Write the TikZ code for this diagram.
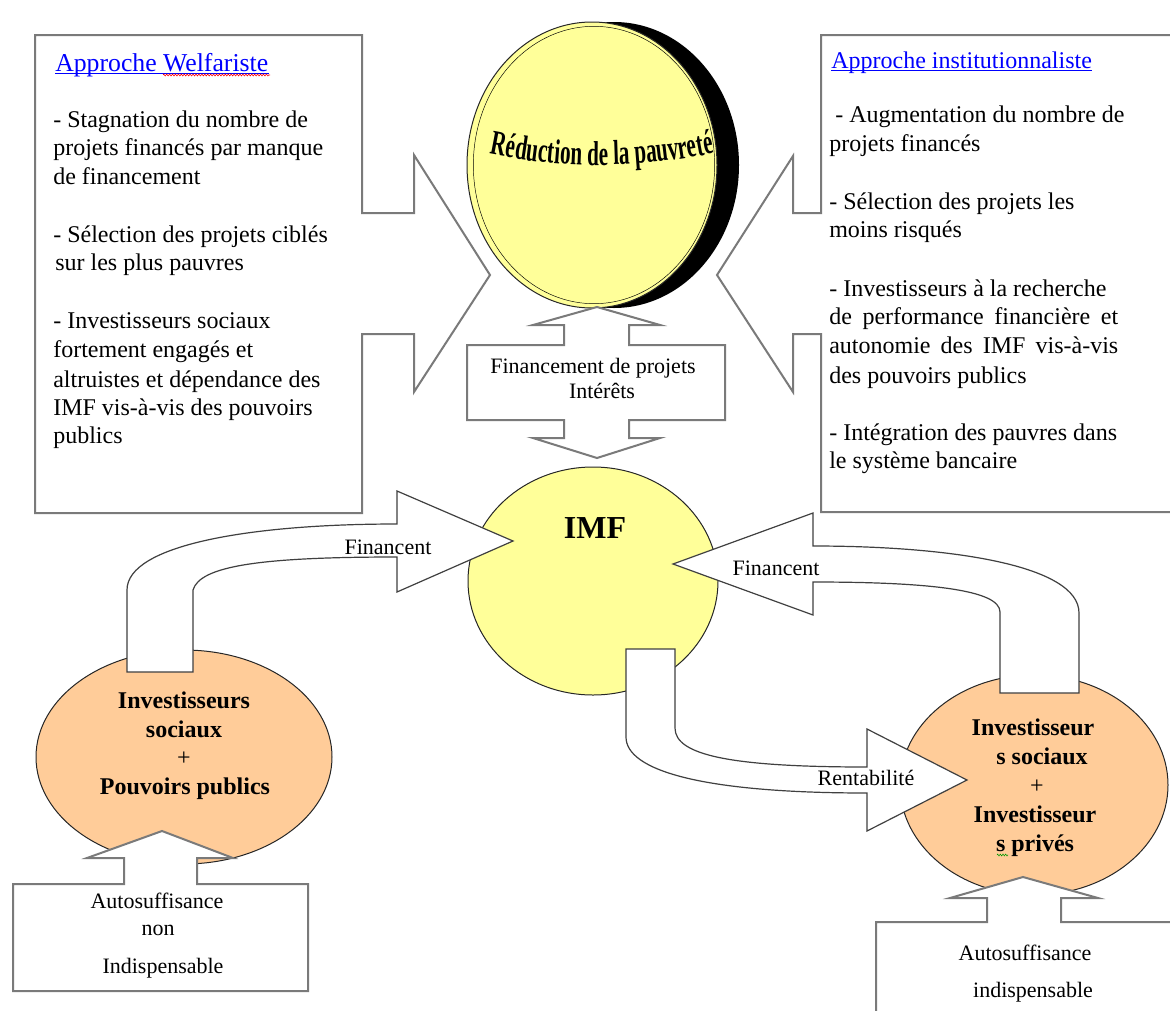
\documentclass[tikz,border=0pt]{standalone}
\usepackage{fontspec}
\setmainfont{Liberation Serif}
\newfontfamily\narrowfont{Liberation Serif}[FakeStretch=0.61]
\usetikzlibrary{decorations.text,decorations.pathmorphing,shapes.geometric}
\definecolor{yel}{HTML}{FFFF99}
\definecolor{ora}{HTML}{FFCC99}
\definecolor{boxgray}{HTML}{7A7A7A}
\definecolor{arrgray}{HTML}{404040}
\begin{document}
\begin{tikzpicture}[x=0.75pt,y=-0.75pt,
  callout/.style={draw=boxgray, line width=1.5pt, fill=white, line join=miter},
  blockarrow/.style={draw=arrgray, line width=0.9pt, fill=white, line join=miter},
  tl/.style={inner sep=0pt, anchor=base west, font=\fontsize{18}{21}\selectfont},
  lab/.style={inner sep=0pt, anchor=base, font=\fontsize{16.5}{19}\selectfont},
  bl/.style={inner sep=0pt, anchor=base, font=\fontsize{18}{21}\selectfont\bfseries},
  blob/.style={ellipse, draw=black!85, line width=0.75pt, inner sep=0pt}]
\fill[white] (0,0) rectangle (1170,1010);
\useasboundingbox (0,0) rectangle (1170,1010);

% ---------- callouts ----------
\draw[callout] (35,35) -- (362,35) -- (362,213) -- (414,213) -- (414,155) -- (490,275)
  -- (414,392) -- (414,334) -- (362,334) -- (362,513) -- (35,513) -- cycle;
\draw[callout] (821,35) -- (1180,35) -- (1180,512) -- (821,512) -- (821,334) -- (793,334)
  -- (793,392) -- (717,275) -- (793,156) -- (793,213) -- (821,213) -- cycle;

% ---------- ellipses ----------
\node[ellipse, fill=black, inner sep=0pt, minimum width=187.5pt, minimum height=214.5pt] (shadow) at (614,165) {};
\node[blob, fill=yel, minimum width=187.5pt, minimum height=214.5pt] (reduc) at (592,165) {};
\node[ellipse, draw=black, line width=0.35pt, inner sep=0pt, minimum width=181pt, minimum height=208pt] (rim) at (594,165) {};
\node[blob, fill=yel, minimum width=187.5pt, minimum height=171pt] (imf) at (593,581) {};
\node[blob, fill=ora, minimum width=222pt, minimum height=160.5pt] (left) at (184,757) {};
\node[blob, fill=ora, minimum width=201pt, minimum height=165pt] (right) at (1034,785) {};

% ---------- block arrows ----------
\draw[callout] (467,345) -- (564,345) -- (564,325) -- (533,325) -- (597,307) -- (660,325)
  -- (629,325) -- (629,345) -- (725,345) -- (725,420) -- (629,420) -- (629,438) -- (660,438)
  -- (597,458) -- (533,438) -- (564,438) -- (564,420) -- (467,420) -- cycle;

\draw[blockarrow] (127,672) -- (127,590) .. controls (127,545) and (250,524) .. (397,524)
  -- (397,491) -- (513,541) -- (397,592) -- (397,557)
  .. controls (260,557) and (200,566) .. (193,590) -- (193,672) -- cycle;

\draw[blockarrow] (1000,693) -- (1000,612) .. controls (1000,590) and (930,582) .. (813,582)
  -- (813,615) -- (673,564) -- (813,513) -- (813,546)
  .. controls (950,546) and (1079,565) .. (1079,613) -- (1079,693) -- cycle;

\draw[blockarrow] (626,649) -- (675,649) -- (675,728) .. controls (675,755) and (730,767) .. (867,767)
  -- (867,729) -- (967,780) -- (867,831) -- (867,793)
  .. controls (700,793) and (626,770) .. (626,737) -- cycle;

\draw[callout] (13,884) -- (124,884) -- (124,858) -- (87,858) -- (162,831) -- (233,858)
  -- (197,858) -- (197,884) -- (308,884) -- (308,991) -- (13,991) -- cycle;
\draw[callout] (876,1030) -- (876,922) -- (987,922) -- (987,898) -- (950,898) -- (1023,877)
  -- (1098,898) -- (1061,898) -- (1061,922) -- (1185,922) -- (1185,1030) -- cycle;

% ---------- Réduction de la pauvreté ----------
\path[decorate, decoration={text along path, text align=center,
  text={|\narrowfont\bfseries\fontsize{26}{26}\selectfont|Réduction de la pauvreté}}]
  (476,151) .. controls (560,170) and (640,170) .. (728,150);

% ---------- left callout text ----------
\node[tl, text=blue, font=\fontsize{19.3}{21}\selectfont] (wt) at (55,71) {Approche Welfariste};
\draw[blue, line width=0.7pt] ([yshift=-1.8pt]wt.base west) -- ([yshift=-1.8pt]wt.base east);
\draw[red, line width=0.45pt, decorate, decoration={zigzag, segment length=2.2pt, amplitude=0.7pt}]
  (163,75) -- (270,75);
\node[tl] (wl1) at (53,127) {- Stagnation du nombre de};
\node[tl] (wl2) at (53,155) {projets financés par manque};
\node[tl] (wl3) at (53,184) {de financement};
\node[tl] (wl4) at (53,242) {- Sélection des projets ciblés};
\node[tl] (wl5) at (55,270) {sur les plus pauvres};
\node[tl] (wl6) at (53,328) {- Investisseurs sociaux};
\node[tl] (wl7) at (53,357) {fortement engagés et};
\node[tl] (wl8) at (53,387) {altruistes et dépendance des};
\node[tl] (wl9) at (53,415) {IMF vis-à-vis des pouvoirs};
\node[tl] (wl10) at (53,443) {publics};

% ---------- right callout text ----------
\node[tl, text=blue] (it) at (831,68) {Approche institutionnaliste};
\draw[blue, line width=0.7pt] ([yshift=-1.8pt]it.base west) -- ([yshift=-1.8pt]it.base east);
\node[tl] (il1) at (835,122) {- Augmentation du nombre de};
\node[tl] (il2) at (829,151) {projets financés};
\node[tl] (il3) at (829,209) {- Sélection des projets les};
\node[tl] (il4) at (829,237) {moins risqués};
\node[tl] (il5) at (829,296) {- Investisseurs à la recherche};
\node[tl] (il6) at (829,324) {\makebox[216.75pt][s]{de performance financière et}};
\node[tl] (il7) at (829,353) {\makebox[216.75pt][s]{autonomie des IMF vis-à-vis}};
\node[tl] (il8) at (829,383) {des pouvoirs publics};
\node[tl] (il9) at (829,440) {- Intégration des pauvres dans};
\node[tl] (il10) at (829,468) {le système bancaire};

% ---------- centre labels ----------
\node[lab] (fin1) at (593,373) {Financement de projets};
\node[lab] (fin2) at (602,398) {Intérêts};
\node[inner sep=0pt, anchor=base, font=\fontsize{24}{24}\selectfont\bfseries] (imft) at (595,538) {IMF};
\node[lab, fill=white] (fl) at (388,554) {Financent};
\node[lab] (fr) at (776,575) {Financent};
\node[lab, fill=white] (rent) at (866,785) {Rentabilité};

% ---------- ellipse texts ----------
\node[bl] (l1) at (184,708) {Investisseurs};
\node[bl] (l2) at (184,737) {sociaux};
\node[lab, font=\fontsize{18}{21}\selectfont] (l3) at (184,765) {+};
\node[bl] (l4) at (185,794) {Pouvoirs publics};

\node[bl] (r1) at (1033,735) {Investisseur};
\node[bl] (r2) at (1042,764) {s sociaux};
\node[lab, font=\fontsize{18}{21}\selectfont] (r3) at (1037,793) {+};
\node[bl] (r4) at (1035,822) {Investisseur};
\node[bl] (r5) at (1035,851) {s privés};
\draw[green!60!black, line width=0.4pt, decorate, decoration={zigzag, segment length=2pt, amplitude=0.7pt}]
  (997,855) -- (1008,855);

% ---------- bottom boxes ----------
\node[lab] (b1) at (157,908) {Autosuffisance};
\node[lab] (b2) at (158,935) {non};
\node[lab] (b3) at (163,973) {Indispensable};
\node[lab] (c1) at (1025,960) {Autosuffisance};
\node[lab] (c2) at (1033,997) {indispensable};
\end{tikzpicture}
\end{document}
